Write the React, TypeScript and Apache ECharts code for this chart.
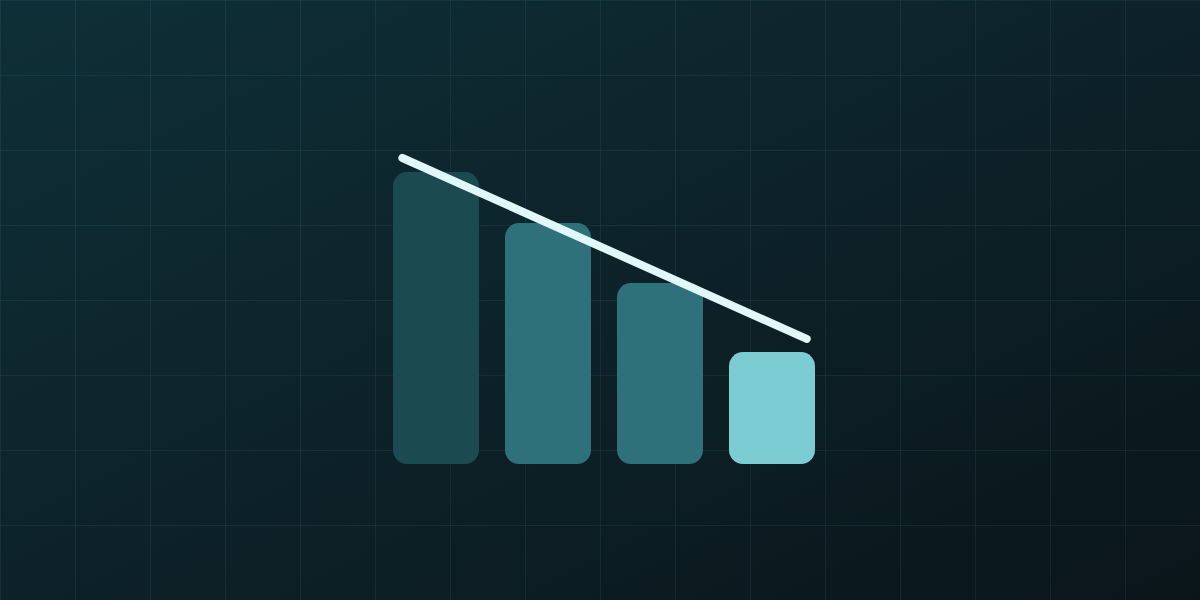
import React, { useEffect, useRef } from 'react';
import * as echarts from 'echarts';

// bar heights, in chart units (axis max is 110)
const categories = ['A', 'B', 'C', 'D'];
const barValues = [97.3, 80.3, 60.3, 37.3];
const barColors = ['#1c4a51', '#2e717a', '#2e717a', '#7ccdd3'];

// trend line end points: [category position, value]
const trendX = [-0.3, 3.31];
const trendY = [102, 41.7];

// background grid cells
const bgCols = [...Array(16)].map((_, i) => String(i));
const bgRows = 8;

const App: React.FC = () => {
  const chartRef = useRef<HTMLDivElement | null>(null);

  useEffect(() => {
    document.body.style.margin = '0';
    if (!chartRef.current) return;
    const chart = echarts.init(chartRef.current, undefined, { renderer: 'svg' });

    const gridLine = { show: true, lineStyle: { color: 'rgba(110,190,200,0.09)', width: 1 } };

    chart.setOption({
      animation: false,
      backgroundColor: {
        type: 'linear',
        x: 0,
        y: 0,
        x2: 1,
        y2: 1,
        colorStops: [
          { offset: 0, color: '#0f2f37' },
          { offset: 1, color: '#0a151a' },
        ],
      },
      grid: [
        { left: 0, right: 0, top: 0, bottom: 0 },
        { left: 380, width: 448, top: 134, bottom: 136 },
      ],
      xAxis: [
        {
          gridIndex: 0,
          type: 'value',
          min: 0,
          max: bgCols.length,
          interval: 1,
          axisLine: { show: false },
          axisTick: { show: false },
          axisLabel: { show: false },
          splitLine: gridLine,
        },
        {
          gridIndex: 1,
          type: 'category',
          data: categories,
          show: false,
        },
        {
          gridIndex: 1,
          type: 'value',
          min: -0.5,
          max: 3.5,
          show: false,
        },
      ],
      yAxis: [
        {
          gridIndex: 0,
          type: 'value',
          min: 0,
          max: bgRows,
          interval: 1,
          axisLine: { show: false },
          axisTick: { show: false },
          axisLabel: { show: false },
          splitLine: gridLine,
        },
        {
          gridIndex: 1,
          type: 'value',
          min: 0,
          max: 110,
          show: false,
        },
      ],
      series: [
        {
          type: 'bar',
          xAxisIndex: 1,
          yAxisIndex: 1,
          barWidth: 86,
          data: barValues.map((v, i) => ({
            value: v,
            itemStyle: { color: barColors[i], borderRadius: 14 },
          })),
          silent: true,
        },
        {
          type: 'line',
          xAxisIndex: 2,
          yAxisIndex: 1,
          data: trendX.map((x, i) => [x, trendY[i]]),
          symbol: 'none',
          lineStyle: { color: '#e0f8fa', width: 8, cap: 'round' },
          silent: true,
          z: 5,
        },
      ],
    });

    return () => {
      chart.dispose();
    };
  }, []);

  return <div ref={chartRef} style={{ width: '1200px', height: '600px' }} />;
};

export default App;
